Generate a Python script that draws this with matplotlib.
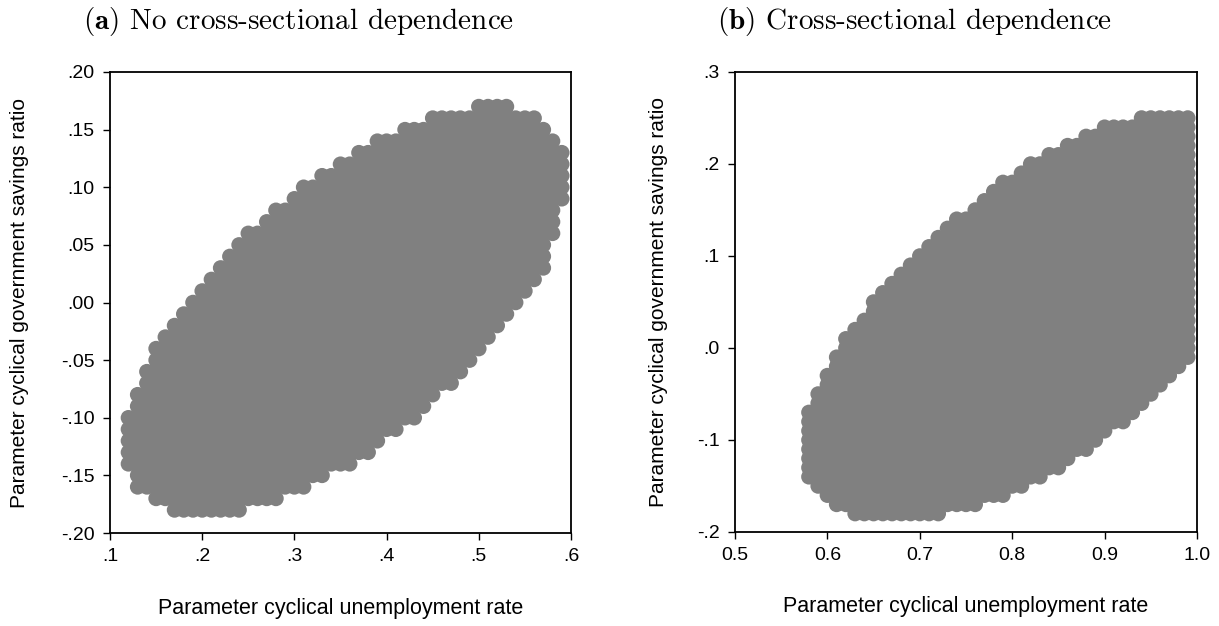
import numpy as np
import matplotlib
matplotlib.use("Agg")
import matplotlib.pyplot as plt

# grid columns (x) with lowest / highest accepted y in each column
a_x = [0.12, 0.13, 0.14, 0.15, 0.16, 0.17, 0.18, 0.19, 0.20, 0.21, 0.22, 0.23,
       0.24, 0.25, 0.26, 0.27, 0.28, 0.29, 0.30, 0.31, 0.32, 0.33, 0.34, 0.35,
       0.36, 0.37, 0.38, 0.39, 0.40, 0.41, 0.42, 0.43, 0.44, 0.45, 0.46, 0.47,
       0.48, 0.49, 0.50, 0.51, 0.52, 0.53, 0.54, 0.55, 0.56, 0.57, 0.58, 0.59]
a_lo = [-0.14, -0.16, -0.16, -0.17, -0.17, -0.18, -0.18, -0.18, -0.18, -0.18, -0.18, -0.18,
        -0.18, -0.17, -0.17, -0.17, -0.17, -0.16, -0.16, -0.16, -0.15, -0.15, -0.14, -0.14,
        -0.14, -0.13, -0.13, -0.12, -0.11, -0.11, -0.10, -0.10, -0.09, -0.08, -0.07, -0.07,
        -0.06, -0.05, -0.04, -0.03, -0.02, -0.01, 0.00, 0.01, 0.02, 0.03, 0.06, 0.09]
a_hi = [-0.10, -0.08, -0.06, -0.04, -0.03, -0.02, -0.01, 0.00, 0.01, 0.02, 0.03, 0.04,
        0.05, 0.06, 0.06, 0.07, 0.08, 0.08, 0.09, 0.10, 0.10, 0.11, 0.11, 0.12,
        0.12, 0.13, 0.13, 0.14, 0.14, 0.14, 0.15, 0.15, 0.15, 0.16, 0.16, 0.16,
        0.16, 0.16, 0.17, 0.17, 0.17, 0.17, 0.16, 0.16, 0.16, 0.15, 0.14, 0.13]

b_x = [0.58, 0.59, 0.60, 0.61, 0.62, 0.63, 0.64, 0.65, 0.66, 0.67, 0.68, 0.69,
       0.70, 0.71, 0.72, 0.73, 0.74, 0.75, 0.76, 0.77, 0.78, 0.79, 0.80, 0.81,
       0.82, 0.83, 0.84, 0.85, 0.86, 0.87, 0.88, 0.89, 0.90, 0.91, 0.92, 0.93,
       0.94, 0.95, 0.96, 0.97, 0.98, 0.99]
b_lo = [-0.14, -0.15, -0.16, -0.17, -0.17, -0.18, -0.18, -0.18, -0.18, -0.18, -0.18, -0.18,
        -0.18, -0.18, -0.18, -0.17, -0.17, -0.17, -0.17, -0.16, -0.16, -0.16, -0.15, -0.15,
        -0.14, -0.14, -0.13, -0.13, -0.12, -0.11, -0.11, -0.10, -0.09, -0.08, -0.08, -0.07,
        -0.06, -0.05, -0.04, -0.03, -0.02, -0.01]
b_hi = [-0.07, -0.05, -0.03, -0.01, 0.01, 0.02, 0.03, 0.05, 0.06, 0.07, 0.08, 0.09,
        0.10, 0.11, 0.12, 0.13, 0.14, 0.14, 0.15, 0.16, 0.17, 0.18, 0.18, 0.19,
        0.20, 0.20, 0.21, 0.21, 0.22, 0.22, 0.23, 0.23, 0.24, 0.24, 0.24, 0.24,
        0.25, 0.25, 0.25, 0.25, 0.25, 0.25]

a_xticks = [0.1, 0.2, 0.3, 0.4, 0.5, 0.6]
a_xticklabels = [".1", ".2", ".3", ".4", ".5", ".6"]
a_yticks = [-0.20, -0.15, -0.10, -0.05, 0.00, 0.05, 0.10, 0.15, 0.20]
a_yticklabels = ["-.20", "-.15", "-.10", "-.05", ".00", ".05", ".10", ".15", ".20"]
b_xticks = [0.5, 0.6, 0.7, 0.8, 0.9, 1.0]
b_xticklabels = ["0.5", "0.6", "0.7", "0.8", "0.9", "1.0"]
b_yticks = [-0.2, -0.1, 0.0, 0.1, 0.2, 0.3]
b_yticklabels = ["-.2", "-.1", ".0", ".1", ".2", ".3"]

titles = [r"$\mathbf{(a)}$ No cross-sectional dependence",
          r"$\mathbf{(b)}$ Cross-sectional dependence"]
xlabel = "Parameter cyclical unemployment rate"
ylabel = "Parameter cyclical government savings ratio"

plt.rcParams["font.family"] = ["Liberation Sans", "DejaVu Sans"]
plt.rcParams["mathtext.fontset"] = "cm"


def grid_points(cols, lo, hi):
    xs, ys = [], []
    for c, l, h in zip(cols, lo, hi):
        n = int(round((h - l) / 0.01)) + 1
        for k in range(n):
            xs.append(c)
            ys.append(round(l + 0.01 * k, 2))
    return np.array(xs), np.array(ys)


fig = plt.figure(figsize=(12.19, 6.26), dpi=100)
ax_a = fig.add_axes([110 / 1219, 93 / 626, 461 / 1219, 461 / 626])
ax_b = fig.add_axes([735 / 1219, 94 / 626, 462 / 1219, 460 / 626])

panels = [
    (ax_a, a_x, a_lo, a_hi, (0.1, 0.6), (-0.2, 0.2), a_xticks, a_xticklabels, a_yticks, a_yticklabels),
    (ax_b, b_x, b_lo, b_hi, (0.5, 1.0), (-0.2, 0.3), b_xticks, b_xticklabels, b_yticks, b_yticklabels),
]

for ax, cx, lo, hi, xl, yl, xt, xtl, yt, ytl in panels:
    px, py = grid_points(cx, lo, hi)
    ax.scatter(px, py, s=125, color="#808080", edgecolors="none", zorder=2)
    ax.set_xlim(*xl)
    ax.set_ylim(*yl)
    ax.set_xticks(xt)
    ax.set_xticklabels(xtl)
    ax.set_yticks(yt)
    ax.set_yticklabels(ytl)
    ax.tick_params(direction="out", length=5, width=1, colors="black", labelsize=14, pad=6)
    for sp in ax.spines.values():
        sp.set_linewidth(1.3)
        sp.set_color("black")
    ax.set_xlabel(xlabel, fontsize=15.5)
    ax.set_ylabel(ylabel, fontsize=15)

ax_a.xaxis.set_label_coords(0.5, -0.14)
ax_b.xaxis.set_label_coords(0.5, -0.14)
ax_a.yaxis.set_label_coords(-0.175, 0.5)
ax_b.yaxis.set_label_coords(-0.145, 0.5)

fig.text(83 / 1219, 1 - 21 / 626, titles[0], family="cmr10", fontsize=21, va="center", ha="left")
fig.text(717 / 1219, 1 - 21 / 626, titles[1], family="cmr10", fontsize=21, va="center", ha="left")

fig.savefig("out.png", dpi=100)
